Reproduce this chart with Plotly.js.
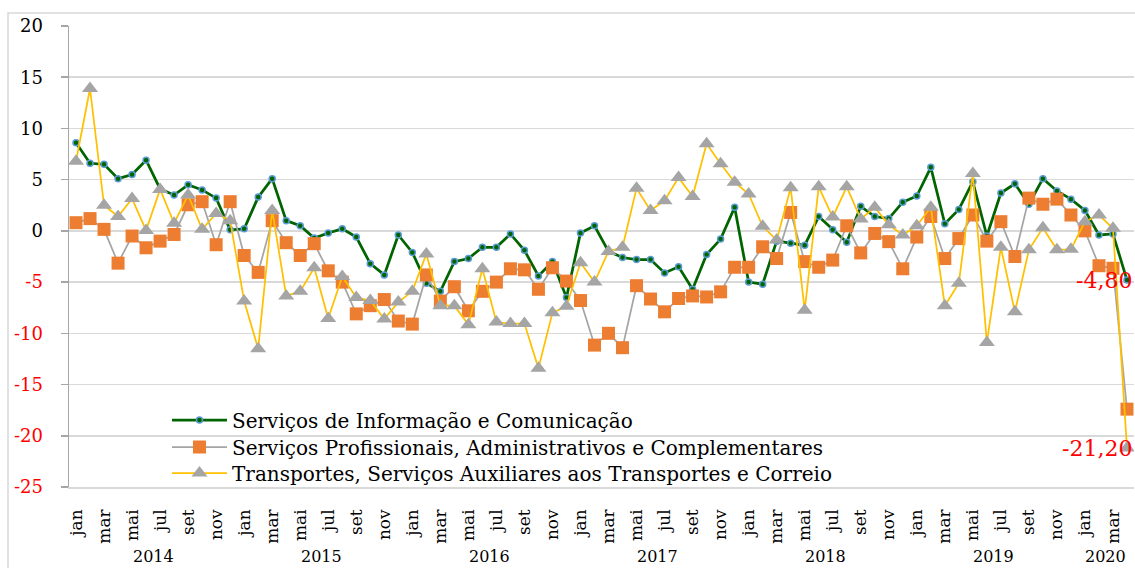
<!DOCTYPE html>
<html>
<head>
<meta charset="utf-8">
<script src="https://cdn.plot.ly/plotly-3.0.1.min.js"></script>
<style>
  html, body { margin: 0; padding: 0; background: #ffffff; }
  #chart { width: 1135px; height: 568px; }
</style>
</head>
<body>
<div id="chart"></div>
<script>
// ---------- data ----------
const monthNames = ['jan','fev','mar','abr','mai','jun','jul','ago','set','out','nov','dez'];
const years = ['2014','2015','2016','2017','2018','2019','2020'];
const monthsPerYear = [12,12,12,12,12,12,4];

const seriesNames = [
  'Serviços de Informação e Comunicação',
  'Serviços Profissionais, Administrativos e Complementares',
  'Transportes, Serviços Auxiliares aos Transportes e Correio'
];

const infoCom = [
  8.6, 6.6, 6.5, 5.1, 5.5, 6.9, 4.1, 3.5, 4.5, 4.0, 3.2, 0.1,
  0.2, 3.3, 5.1, 1.0, 0.5, -0.7, -0.2, 0.2, -0.6, -3.2, -4.3, -0.4,
  -2.1, -5.1, -5.9, -3.0, -2.7, -1.6, -1.6, -0.3, -1.9, -4.4, -3.0, -6.5,
  -0.2, 0.5, -2.0, -2.6, -2.8, -2.8, -4.1, -3.5, -5.7, -2.3, -0.8, 2.3,
  -5.0, -5.2, -1.0, -1.2, -1.4, 1.4, 0.1, -1.1, 2.4, 1.4, 1.2, 2.8,
  3.4, 6.2, 0.7, 2.1, 4.8, -0.5, 3.7, 4.6, 2.6, 5.1, 3.9, 3.1,
  2.0, -0.4, -0.3, -4.8
];

const profAdm = [
  0.8, 1.2, 0.15, -3.15, -0.5, -1.65, -1.0, -0.35, 2.55, 2.85, -1.35, 2.85,
  -2.4, -4.05, 1.0, -1.15, -2.4, -1.25, -3.9, -5.0, -8.1, -7.3, -6.7, -8.8,
  -9.1, -4.3, -6.85, -5.45, -7.8, -5.9, -5.0, -3.7, -3.8, -5.7, -3.6, -4.9,
  -6.8, -11.15, -10.0, -11.4, -5.35, -6.65, -7.9, -6.6, -6.35, -6.45, -5.95, -3.55,
  -3.55, -1.55, -2.7, 1.8, -3.0, -3.55, -2.85, 0.5, -2.15, -0.25, -1.05, -3.7,
  -0.6, 1.4, -2.7, -0.75, 1.55, -1.0, 0.9, -2.5, 3.2, 2.6, 3.1, 1.55,
  0.0, -3.4, -3.65, -17.4
];

const transp = [
  6.8, 13.9, 2.5, 1.4, 3.15, 0.05, 4.05, 0.75, 3.5, 0.15, 1.7, 1.0,
  -6.85, -11.5, 2.0, -6.35, -5.9, -3.6, -8.55, -4.45, -6.5, -6.8, -8.6, -6.95,
  -5.9, -2.25, -7.3, -7.3, -9.15, -3.7, -8.9, -9.05, -9.05, -13.4, -8.0, -7.35,
  -3.1, -5.0, -2.0, -1.6, 4.15, 2.0, 2.95, 5.2, 3.35, 8.5, 6.55, 4.75,
  3.6, 0.45, -0.9, 4.2, -7.75, 4.3, 1.35, 4.3, 1.15, 2.3, 0.6, -0.4,
  0.5, 2.3, -7.3, -5.1, 5.6, -10.9, -1.6, -7.9, -1.85, 0.3, -1.85, -1.8,
  0.9, 1.55, 0.25, -21.2
];

// data labels shown on the last point of two series
const endLabelInfo = '-4,80';
const endLabelTransp = '-21,20';

const yTicks = [20, 15, 10, 5, 0, -5, -10, -15, -20, -25];

// ---------- build ----------
const nPts = infoCom.length;
const xIdx = infoCom.map((_, i) => i);
const catLabels = [];
years.forEach((y, k) => { for (let m = 0; m < monthsPerYear[k]; m++) catLabels.push(monthNames[m]); });

const tickVals = [], tickText = [];
catLabels.forEach((m, i) => { if (i % 2 === 0) { tickVals.push(i); tickText.push(m); } });

const boundaries = [];
for (let i = 0; i <= nPts; i++) boundaries.push(i - 0.5);

const yearBounds = [-0.5];
const yearCenters = [];
let start = 0;
monthsPerYear.forEach(n => { yearCenters.push(start + (n - 1) / 2); start += n; yearBounds.push(start - 0.5); });

const FONT = 'DejaVu Serif, Liberation Serif, serif';
const GRID = '#d9d9d9';

const traces = [
  { x: xIdx, y: infoCom, name: seriesNames[0], type: 'scatter', mode: 'lines+markers', legend: 'legend',
    line: { color: '#006400', width: 2.75 },
    marker: { symbol: 'circle', size: 6, color: '#006400', line: { color: '#5b9bd5', width: 1.5 } } },
  { x: xIdx, y: profAdm, name: seriesNames[1], type: 'scatter', mode: 'lines+markers', legend: 'legend2',
    line: { color: '#a5a5a5', width: 1.75 },
    marker: { symbol: 'square', size: 13, color: '#ed7d31' } },
  { x: xIdx, y: transp, name: seriesNames[2], type: 'scatter', mode: 'lines+markers', legend: 'legend3',
    line: { color: '#ffc000', width: 1.75 },
    marker: { symbol: 'triangle-up', size: 14, color: '#a5a5a5' } }
];

const plotH = 568 - 26 - 81;
const plotW = 1135 - 69 - 1;

const annotations = [];
years.forEach((y, k) => {
  annotations.push({ x: yearCenters[k], y: -(556 - 487) / plotH, xref: 'x', yref: 'paper',
    text: y, showarrow: false, xanchor: 'center', yanchor: 'middle',
    font: { family: FONT, size: 16, color: '#000' } });
});
annotations.push({ x: nPts - 1, y: infoCom[nPts - 1], xref: 'x', yref: 'y', text: endLabelInfo,
  showarrow: false, xanchor: 'right', yanchor: 'middle', xshift: 7,
  font: { family: FONT, size: 22, color: '#ff0000' } });
annotations.push({ x: nPts - 1, y: transp[nPts - 1], xref: 'x', yref: 'y', text: endLabelTransp,
  showarrow: false, xanchor: 'right', yanchor: 'middle', xshift: 7,
  font: { family: FONT, size: 22, color: '#ff0000' } });

function legendAt(py) {
  return {
    x: 0.092, y: (487 - py) / plotH, xanchor: 'left', yanchor: 'middle',
    bgcolor: 'rgba(0,0,0,0)', borderwidth: 0, itemwidth: 55,
    font: { family: FONT, size: 20, color: '#000' }
  };
}

const layout = {
  width: 1135, height: 568,
  margin: { l: 69, r: 1, t: 26, b: 81, pad: 0 },
  paper_bgcolor: '#ffffff', plot_bgcolor: '#ffffff',
  showlegend: true,
  font: { family: FONT, color: '#000' },
  xaxis: {
    range: [-0.5, nPts - 0.5], tickmode: 'array', tickvals: tickVals, ticktext: tickText,
    tickangle: -90, ticks: '', showgrid: false, zeroline: false,
    showline: true, linecolor: GRID, linewidth: 1.5,
    tickfont: { family: FONT, size: 17, color: '#000' }, ticklabelstandoff: 14
  },
  xaxis2: {
    overlaying: 'x', anchor: 'free', position: 25 / 45, side: 'bottom',
    range: [-0.5, nPts - 0.5], tickmode: 'array', tickvals: boundaries,
    ticks: 'outside', ticklen: 5, tickwidth: 1.5, tickcolor: GRID,
    showticklabels: false, showgrid: false, zeroline: false, showline: false
  },
  xaxis3: {
    overlaying: 'x', anchor: 'y', side: 'bottom',
    range: [-0.5, nPts - 0.5], tickmode: 'array', tickvals: boundaries,
    ticks: 'outside', ticklen: 52, tickwidth: 1.5, tickcolor: GRID,
    showticklabels: false, showgrid: false, zeroline: false, showline: false
  },
  xaxis4: {
    overlaying: 'x', anchor: 'y', side: 'bottom',
    range: [-0.5, nPts - 0.5], tickmode: 'array', tickvals: yearBounds,
    ticks: 'outside', ticklen: 95, tickwidth: 1.5, tickcolor: GRID,
    showticklabels: false, showgrid: false, zeroline: false, showline: false
  },
  yaxis: {
    range: [-25, 20], tickmode: 'array', tickvals: yTicks,
    ticktext: yTicks.map(v => v < 0 ? '<span style="color:#ff0000">' + v + '</span>' : String(v)),
    showgrid: true, gridcolor: GRID, gridwidth: 1.5,
    zeroline: true, zerolinecolor: GRID, zerolinewidth: 2,
    showline: true, linecolor: '#a6a6a6', linewidth: 1.5,
    ticks: 'outside', ticklen: 7, tickwidth: 1.5, tickcolor: '#a6a6a6',
    tickfont: { family: FONT, size: 18, color: '#000' }, ticklabelstandoff: 14
  },
  legend: legendAt(420),
  legend2: legendAt(447),
  legend3: legendAt(473),
  shapes: [
    { type: 'rect', xref: 'paper', yref: 'paper',
      x0: (8 - 69) / plotW, x1: (1140 - 69) / plotW,
      y0: -(620 - 487) / plotH, y1: (487 - 13) / plotH,
      line: { color: GRID, width: 1.5 }, fillcolor: 'rgba(0,0,0,0)', layer: 'below' }
  ],
  annotations: annotations
};

Plotly.newPlot('chart', traces, layout, { staticPlot: true, displayModeBar: false });
</script>
</body>
</html>
